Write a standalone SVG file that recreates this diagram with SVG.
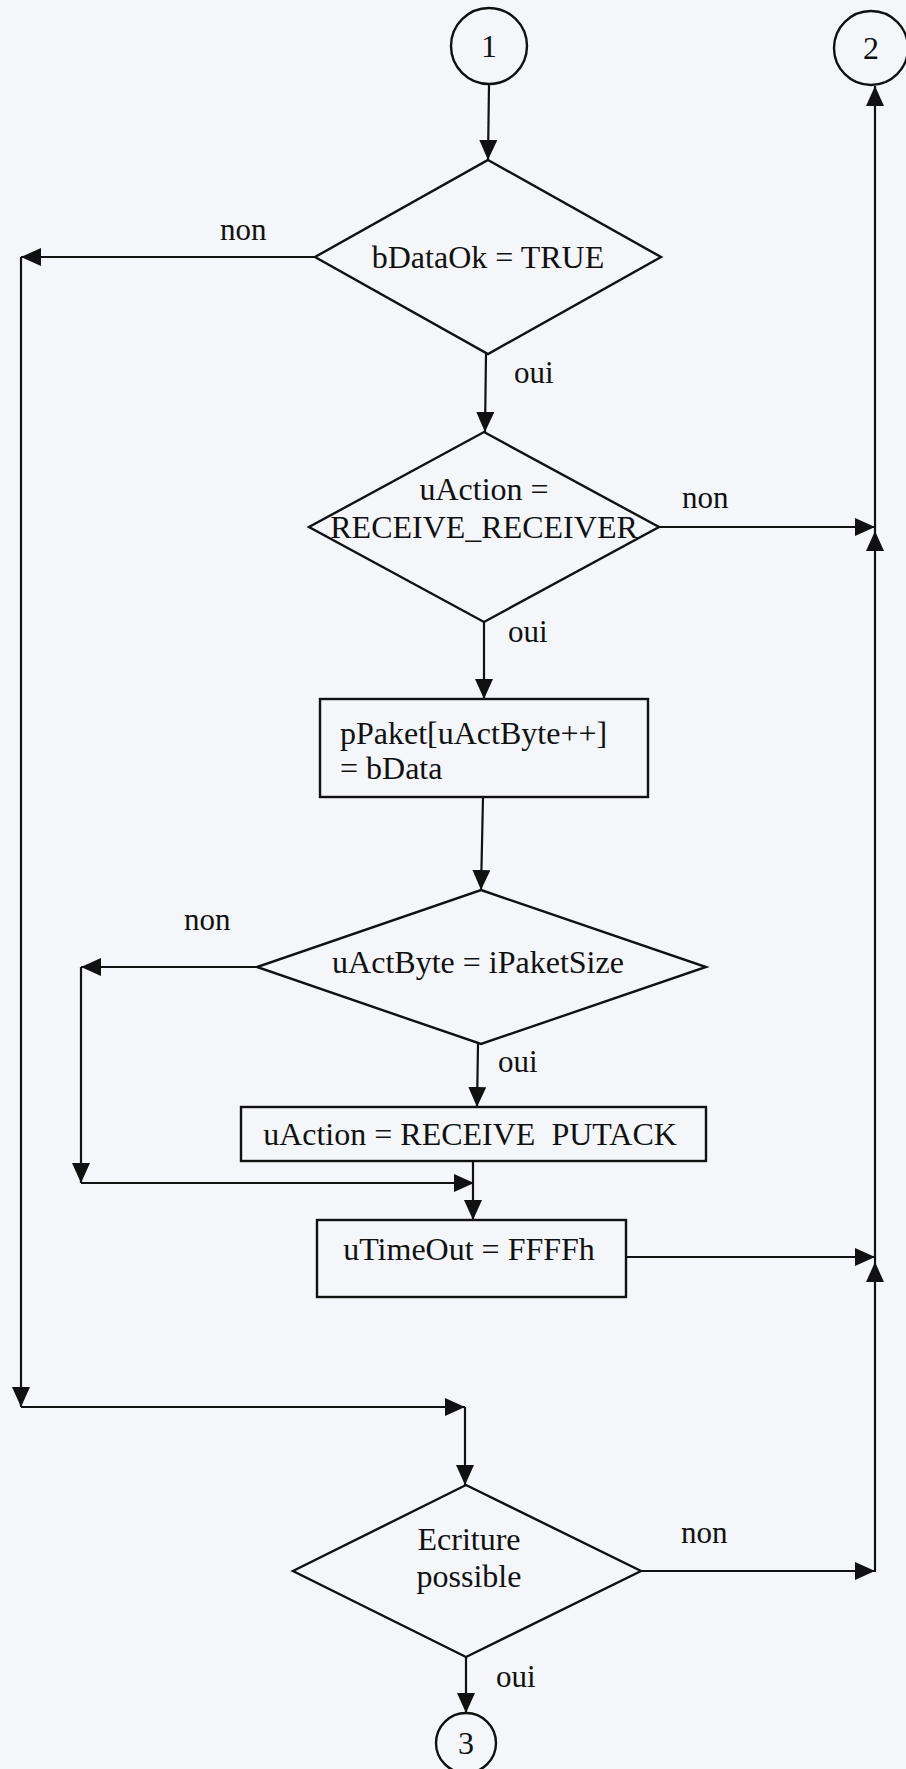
<svg xmlns="http://www.w3.org/2000/svg" width="906" height="1769" viewBox="0 0 906 1769">
  <style>
    .shape { fill: none; stroke: #111; stroke-width: 2.4; }
    .wire { fill: none; stroke: #111; stroke-width: 2.2; }
    .txt { font-family: "Liberation Serif", "Times New Roman", serif; font-size: 32px; fill: #111; }
    .lbl { font-family: "Liberation Serif", "Times New Roman", serif; font-size: 31px; fill: #111; }
    .mid { text-anchor: middle; }
  </style>
  <defs>
    <marker id="arrow" markerUnits="userSpaceOnUse" markerWidth="20" markerHeight="18" refX="20" refY="9" orient="auto">
      <path d="M0,0 L20,9 L0,18 z" fill="#111"/>
    </marker>
  </defs>

  <rect x="0" y="0" width="906" height="1769" fill="#f5f6fa"/>

  <!-- connectors -->
  <g id="connectors">
    <!-- entry 1 to first test -->
    <line class="wire" x1="489" y1="84" x2="488" y2="160" marker-end="url(#arrow)"/>
    <!-- bDataOk: non branch down the left side -->
    <line class="wire" x1="315" y1="257" x2="21" y2="257" marker-end="url(#arrow)"/>
    <line class="wire" x1="21" y1="257" x2="21" y2="1407" marker-end="url(#arrow)"/>
    <line class="wire" x1="21" y1="1407" x2="465" y2="1407" marker-end="url(#arrow)"/>
    <line class="wire" x1="465" y1="1407" x2="465" y2="1485" marker-end="url(#arrow)"/>
    <!-- bDataOk: oui -->
    <line class="wire" x1="486" y1="354" x2="485" y2="432" marker-end="url(#arrow)"/>
    <!-- uAction test: non to the right side -->
    <line class="wire" x1="659" y1="527" x2="875" y2="527" marker-end="url(#arrow)"/>
    <!-- uAction test: oui -->
    <line class="wire" x1="484" y1="622" x2="484" y2="699" marker-end="url(#arrow)"/>
    <!-- store byte to size test -->
    <line class="wire" x1="483" y1="797" x2="481" y2="890" marker-end="url(#arrow)"/>
    <!-- size test: non bypass -->
    <line class="wire" x1="257" y1="967" x2="81" y2="967" marker-end="url(#arrow)"/>
    <line class="wire" x1="81" y1="967" x2="81" y2="1183" marker-end="url(#arrow)"/>
    <line class="wire" x1="81" y1="1183" x2="474" y2="1183" marker-end="url(#arrow)"/>
    <!-- size test: oui -->
    <line class="wire" x1="478" y1="1044" x2="477" y2="1107" marker-end="url(#arrow)"/>
    <!-- PUTACK to timeout -->
    <line class="wire" x1="473" y1="1161" x2="473" y2="1220" marker-end="url(#arrow)"/>
    <!-- timeout to the right side -->
    <line class="wire" x1="626" y1="1257" x2="875" y2="1257" marker-end="url(#arrow)"/>
    <!-- Ecriture: non to the right side -->
    <line class="wire" x1="641" y1="1571" x2="875" y2="1571" marker-end="url(#arrow)"/>
    <!-- right side, rising to exit 2 -->
    <line class="wire" x1="875" y1="1572" x2="875" y2="1262" marker-end="url(#arrow)"/>
    <line class="wire" x1="875" y1="1262" x2="875" y2="531" marker-end="url(#arrow)"/>
    <line class="wire" x1="875" y1="531" x2="875" y2="86" marker-end="url(#arrow)"/>
    <!-- Ecriture: oui to exit 3 -->
    <line class="wire" x1="466" y1="1657" x2="466" y2="1713" marker-end="url(#arrow)"/>

    <text class="lbl" x="220" y="240">non</text>
    <text class="lbl" x="514" y="383">oui</text>
    <text class="lbl" x="682" y="508">non</text>
    <text class="lbl" x="508" y="642">oui</text>
    <text class="lbl" x="184" y="930">non</text>
    <text class="lbl" x="498" y="1072">oui</text>
    <text class="lbl" x="681" y="1543">non</text>
    <text class="lbl" x="496" y="1687">oui</text>
  </g>

  <!-- connector circles -->
  <g id="entry1">
    <circle class="shape" cx="489" cy="46" r="38"/>
    <text class="txt mid" x="489" y="57">1</text>
  </g>
  <g id="exit2">
    <circle class="shape" cx="871" cy="48" r="37"/>
    <text class="txt mid" x="871" y="59">2</text>
  </g>
  <g id="exit3">
    <circle class="shape" cx="466" cy="1743" r="30"/>
    <text class="txt mid" x="466" y="1754">3</text>
  </g>

  <!-- decisions -->
  <g id="testDataOk">
    <polygon class="shape" points="488,160 661,257 488,354 315,257"/>
    <text class="txt mid" x="488" y="268">bDataOk = TRUE</text>
  </g>
  <g id="testAction">
    <polygon class="shape" points="484,432 659,527 484,622 309,527"/>
    <text class="txt mid" x="484" y="500">uAction =</text>
    <text class="txt mid" x="484" y="538">RECEIVE_RECEIVER</text>
  </g>
  <g id="testSize">
    <polygon class="shape" points="481,890 706,967 481,1044 257,967"/>
    <text class="txt mid" x="478" y="973">uActByte = iPaketSize</text>
  </g>
  <g id="testWrite">
    <polygon class="shape" points="466,1485 641,1571 466,1657 293,1571"/>
    <text class="txt mid" x="469" y="1550">Ecriture</text>
    <text class="txt mid" x="469" y="1587">possible</text>
  </g>

  <!-- processes -->
  <g id="storeByte">
    <rect class="shape" x="320" y="699" width="328" height="98"/>
    <text class="txt" x="340" y="744" font-size="30">pPaket[uActByte++]</text>
    <text class="txt" x="340" y="779" font-size="30">= bData</text>
  </g>
  <g id="setPutAck">
    <rect class="shape" x="241" y="1107" width="465" height="54"/>
    <text class="txt mid" x="470" y="1145">uAction = RECEIVE&#160; PUTACK</text>
  </g>
  <g id="setTimeOut">
    <rect class="shape" x="317" y="1220" width="309" height="77"/>
    <text class="txt mid" x="469" y="1260">uTimeOut = FFFFh</text>
  </g>
</svg>
